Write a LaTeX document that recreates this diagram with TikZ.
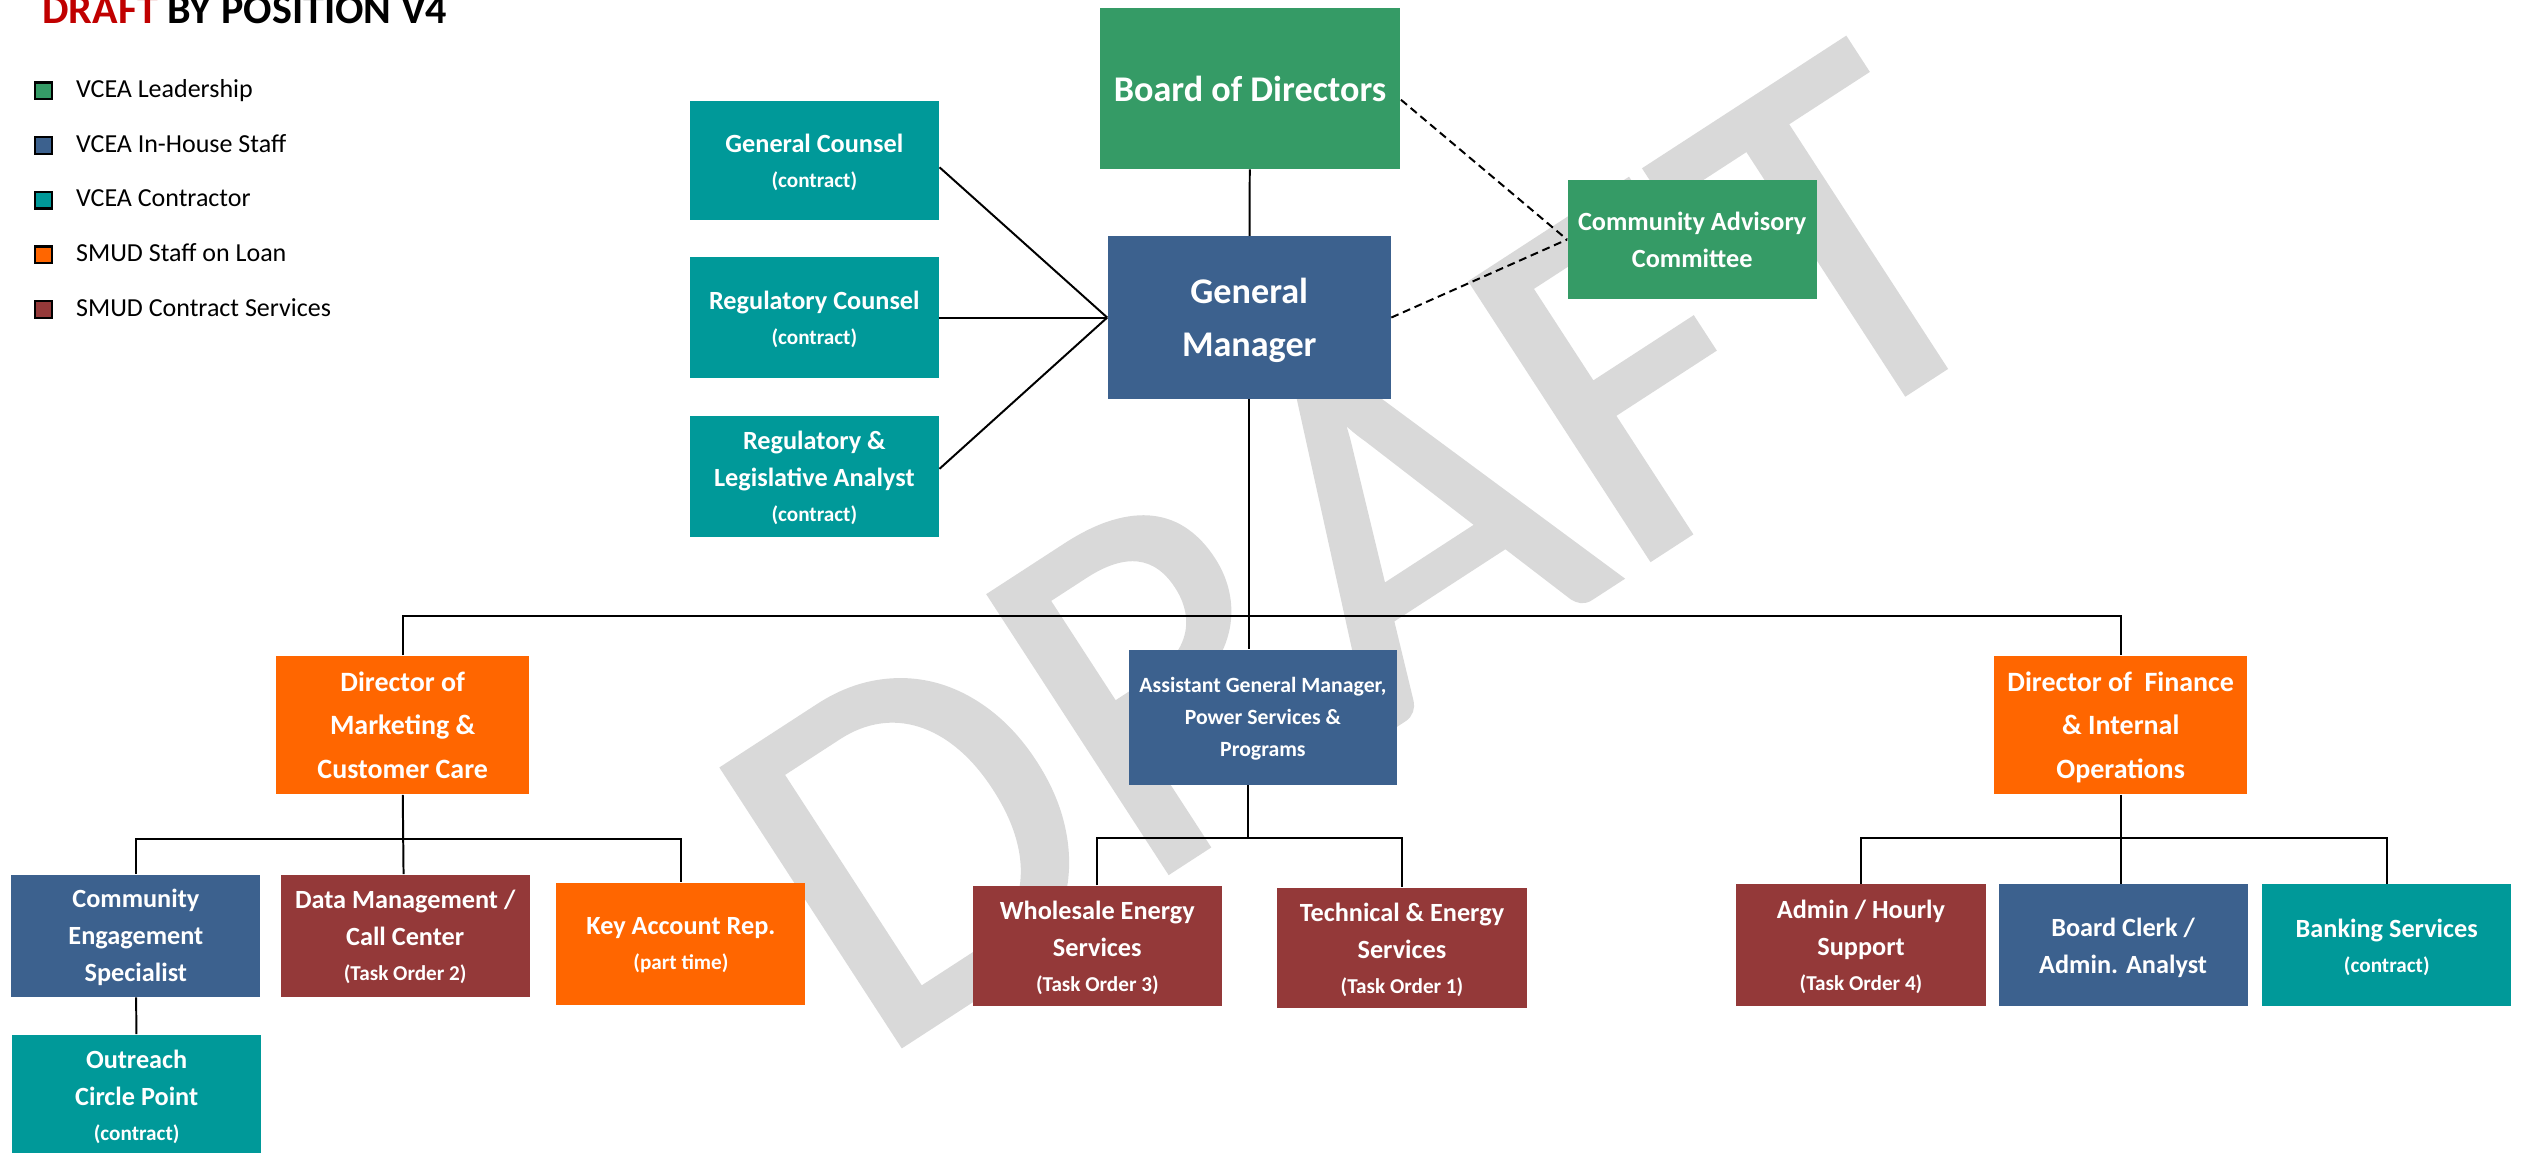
\documentclass[tikz,border=0pt]{standalone}
\usepackage{fontspec}
\setmainfont{Carlito}
\newfontfamily\wmfont[FakeBold=1]{Carlito}
\usepackage{tikz}
\usetikzlibrary{positioning}

\definecolor{leadgreen}{RGB}{53,155,102}
\definecolor{staffblue}{RGB}{60,97,142}
\definecolor{contrteal}{RGB}{0,153,153}
\definecolor{loanorange}{RGB}{255,102,0}
\definecolor{svcmaroon}{RGB}{148,57,57}
\definecolor{wmgray}{RGB}{217,217,217}
\definecolor{draftred}{RGB}{192,0,0}

\newcommand{\subnote}{\fontsize{7.5}{9}\selectfont}
\newcommand{\subline}[1]{\\[-0.7pt]{\subnote #1}}

\begin{document}
\begin{tikzpicture}[
    x=0.02cm, y=-0.02cm,
    unit/.style={
        rectangle,
        text=white,
        font=\bfseries\fontsize{9.3}{13.1}\selectfont,
        align=center,
        minimum width=3.1cm,
        minimum height=1.5cm,
        text depth=-4pt,
        inner sep=0pt
    },
    head/.style={
        unit,
        font=\bfseries\fontsize{12.8}{18.8}\selectfont
    },
    director/.style={
        unit,
        font=\bfseries\fontsize{9.9}{15.4}\selectfont,
        minimum width=3.15cm,
        minimum height=1.72cm,
        text depth=-2.3pt
    },
    keybox/.style={
        rectangle,
        draw=black,
        line width=0.8pt,
        minimum size=0.21cm,
        inner sep=0pt
    },
    keytext/.style={
        anchor=base west,
        inner sep=0pt,
        font=\fontsize{9.2}{11}\selectfont
    },
    link/.style={
        line width=0.7pt
    },
    advisory/.style={
        line width=0.7pt,
        dash pattern=on 2.8pt off 1.7pt
    }
    ]
    \useasboundingbox (0,0) rectangle (1568,717.1);
    \clip (0,0) rectangle (1568,717.1);

    \node[rotate=33, anchor=base, inner sep=0pt, text=wmgray,
        font=\wmfont\fontsize{182}{200}\selectfont] (wm) at (903,428) {DRAFT};

    \node[anchor=base west, inner sep=0pt, font=\bfseries\fontsize{14.9}{18}\selectfont]
        (title) at (26,14.3) {\textcolor{draftred}{DRAFT} BY POSITION V4};

    \node[keybox, fill=leadgreen] (klead) at (27,56.5) {};
    \node[keybox, fill=staffblue] (kstaff) at (27,90.5) {};
    \node[keybox, fill=contrteal] (kcontr) at (27,124.5) {};
    \node[keybox, fill=loanorange] (kloan) at (27,158.5) {};
    \node[keybox, fill=svcmaroon] (ksvc) at (27,192.5) {};
    \node[keytext] (tlead) at (47,60.7) {VCEA Leadership};
    \node[keytext] (tstaff) at (47,94.7) {VCEA In-House Staff};
    \node[keytext] (tcontr) at (47,128.7) {VCEA Contractor};
    \node[keytext] (tloan) at (47,162.7) {SMUD Staff on Loan};
    \node[keytext] (tsvc) at (47,196.7) {SMUD Contract Services};

    \node[head, fill=leadgreen, minimum width=3.74cm, minimum height=2cm] (bod) at (777.5,55) {Board of Directors};
    \node[head, fill=staffblue, minimum width=3.52cm, minimum height=2.02cm] (gm) at (777,197.5) {General\\Manager};
    \node[unit, fill=contrteal, minimum height=1.48cm] (gc) at (506.5,100) {General Counsel\subline{(contract)}};
    \node[unit, fill=contrteal] (rc) at (506.5,197.5) {Regulatory Counsel\subline{(contract)}};
    \node[unit, fill=contrteal] (rla) at (506.5,296.5) {Regulatory \&\\Legislative Analyst\subline{(contract)}};
    \node[unit, fill=leadgreen, minimum height=1.48cm] (cac) at (1052.5,149) {Community Advisory\\Committee};

    \node[director, fill=loanorange] (dmc) at (250.5,451) {Director of\\Marketing \&\\Customer Care};
    \node[unit, fill=staffblue, font=\bfseries\fontsize{7.7}{11.4}\selectfont,
        minimum width=3.34cm, minimum height=1.68cm] (agm) at (785.5,446) {Assistant General Manager,\\Power Services \&\\Programs};
    \node[director, fill=loanorange] (dfi) at (1319,451) {Director of\ \ Finance\\\& Internal\\Operations};

    \node[unit, fill=staffblue, minimum height=1.52cm] (ces) at (84.5,582) {Community\\Engagement\\Specialist};
    \node[unit, fill=contrteal, minimum height=1.5cm] (ocp) at (85,681) {Outreach\\Circle Point\subline{(contract)}};
    \node[unit, fill=svcmaroon, minimum height=1.52cm] (dmcc) at (252,582) {Data Management /\\Call Center\subline{(Task Order 2)}};
    \node[unit, fill=loanorange, minimum height=1.52cm] (kar) at (423.5,587) {Key Account Rep.\subline{(part time)}};
    \node[unit, fill=svcmaroon] (wes) at (682.5,588.5) {Wholesale Energy\\Services\subline{(Task Order 3)}};
    \node[unit, fill=svcmaroon] (tes) at (872,589.5) {Technical \& Energy\\Services\subline{(Task Order 1)}};
    \node[unit, fill=svcmaroon, minimum height=1.52cm] (ahs) at (1157.5,588) {Admin / Hourly\\Support\subline{(Task Order 4)}};
    \node[unit, fill=staffblue, minimum height=1.52cm] (bca) at (1320.5,588) {Board Clerk /\\Admin. Analyst};
    \node[unit, fill=contrteal, minimum height=1.52cm] (bks) at (1484.5,588) {Banking Services\subline{(contract)}};

    \coordinate (bus) at (777,383);
    \coordinate (mbus) at (251,522);
    \coordinate (abus) at (776,521);
    \coordinate (fbus) at (1319,521);

    \draw[link] (bod) -- (gm);
    \draw[link] ([yshift=-2.3pt]gc.east) -- (gm.west);
    \draw[link] (rc.east) -- (gm.west);
    \draw[link] ([yshift=2.8pt]rla.east) -- (gm.west);
    \draw[advisory] ([yshift=-4pt]bod.east) -- (cac.west);
    \draw[advisory] (gm.east) -- (cac.west);

    \draw[link] (gm.south) -- (gm.south |- agm.north);
    \draw[link] (dmc.north) |- (bus) -| (dfi.north);

    \draw[link] (dmc.south) -- (mbus |- dmcc.north);
    \draw[link] (ces.north) |- (mbus) -| (kar.north);
    \draw[link] (ces) -- (ocp);

    \draw[link] (abus |- agm.south) -- (abus);
    \draw[link] (wes.north) |- (abus) -| (tes.north);

    \draw[link] (dfi.south) -- (fbus |- bca.north);
    \draw[link] (ahs.north) |- (fbus) -| (bks.north);
\end{tikzpicture}
\end{document}
